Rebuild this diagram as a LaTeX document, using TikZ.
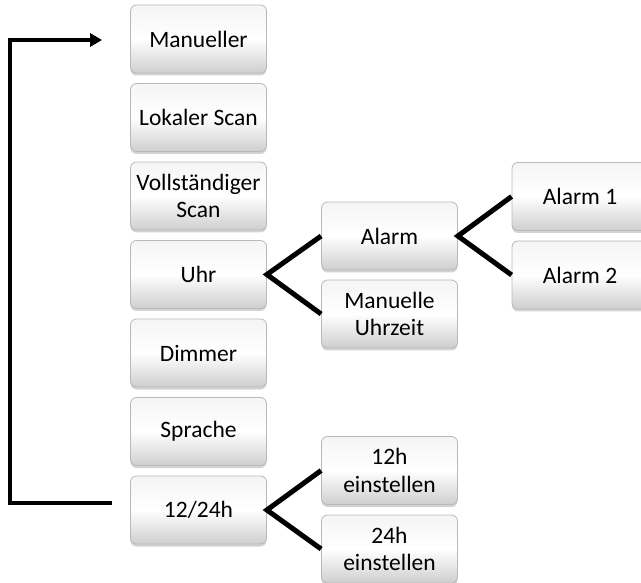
\documentclass[tikz,border=0pt]{standalone}
\usepackage{fontspec}
\setmainfont{Carlito}
\usetikzlibrary{shadows,arrows.meta}
\begin{document}
\begin{tikzpicture}[x=1pt,y=-1pt,
 box/.style={rounded corners=6pt, draw=gray!55, line width=0.8pt,
   top color=gray!8, bottom color=gray!38, middle color=white,
   minimum width=136pt, minimum height=68pt, inner sep=2pt, align=center,
   font=\fontsize{23.5}{27.5}\selectfont,
   drop shadow={shadow xshift=0pt, shadow yshift=-2.5pt, opacity=0.35}},
 fork/.style={line width=5pt, line join=miter},
 fb/.style={line width=3.2pt, -{Triangle[length=12pt,width=13pt]}}]
\useasboundingbox (0,0) rectangle (641,583);
% left column
\node[box] (man) at (198.5,39) {Manueller};
\node[box] (lok) at (198.5,117.5) {Lokaler Scan};
\node[box] (vol) at (198.5,196) {Vollständiger\\Scan};
\node[box] (uhr) at (198.5,274.5) {Uhr};
\node[box] (dim) at (198.5,353) {Dimmer};
\node[box] (spr) at (198.5,431.5) {Sprache};
\node[box] (tf) at (198.5,510) {12/24h};
% middle column
\node[box] (alm) at (389.5,236) {Alarm};
\node[box] (mu) at (389.5,314) {Manuelle\\Uhrzeit};
\node[box] (h12) at (389.5,470.5) {12h\\einstellen};
\node[box] (h24) at (389.5,549) {24h\\einstellen};
% right column
\node[box] (a1) at (580,196.5) {Alarm 1};
\node[box] (a2) at (580,275) {Alarm 2};
% forks
\draw[fork] (alm.west) -- (uhr.east) -- (mu.west);
\draw[fork] (a1.west) -- (alm.east) -- (a2.west);
\draw[fork] (h12.west) -- (tf.east) -- (h24.west);
% feedback loop
\coordinate (corner) at (10,300);
\draw[fb] ([xshift=-18pt,yshift=7pt]tf.west) -| (corner) |- ([xshift=-28pt,yshift=-1pt]man.west);
\end{tikzpicture}
\end{document}
